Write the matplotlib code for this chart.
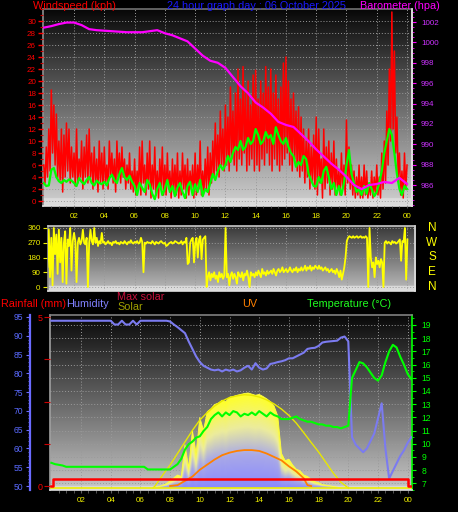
import numpy as np
import matplotlib
matplotlib.use('Agg')
import matplotlib.pyplot as plt
from matplotlib.colors import LinearSegmentedColormap

plt.rcParams['font.family'] = ['Liberation Sans', 'DejaVu Sans']

W, H = 458, 512

# ---------------- data ----------------
hour_ticks = [2, 4, 6, 8, 10, 12, 14, 16, 18, 20, 22, 24]
hour_labels = ['02', '04', '06', '08', '10', '12', '14', '16', '18', '20', '22', '00']

# wind gust (kph), 5-minute samples from 00:00
wind_gust_kph = [
    6, 3, 9, 4, 12, 5, 18.5, 8, 16, 6, 14.5, 4,
    10, 3.5, 12, 1.5, 11, 4, 13, 5, 12, 3, 9, 4,
    8, 2.5, 12, 3, 7, 4, 10, 2, 9, 4, 11, 3,
    12, 4, 8, 2, 9, 3, 7, 1.5, 10, 3, 8, 2,
    9, 3, 6, 2, 10, 4, 8, 3, 7, 1.5, 10, 4,
    8, 3, 9, 4, 7, 2, 6, 3, 8, 2, 5, 1.5,
    7, 1, 5, 2, 9, 1, 10, 3, 6, 1, 8, 2,
    10, 0.5, 6, 2, 9, 1, 5, 0.5, 7, 2, 9, 1,
    6, 1, 8, 2, 5, 0.5, 7, 1.5, 6, 1, 8, 0.5,
    5, 1, 8, 2, 6, 0.5, 7, 1, 5, 2, 6, 0.5,
    8, 1, 6, 2, 10, 1, 5, 1.5, 7, 2, 9, 1,
    8, 3, 10, 4, 13, 5, 11, 4, 15, 6, 12, 5,
    16, 6, 14, 5, 19, 7, 15, 6, 18, 5, 22, 7,
    17, 6, 22.4, 8, 18, 5, 20, 6, 16, 7, 21, 5,
    21.8, 6, 17, 5, 20, 7, 18, 6, 22.4, 8, 19, 6,
    22, 5, 18, 7, 21, 6, 17, 5, 19, 6, 23, 7,
    24, 8, 20, 6, 17, 5, 18, 7, 15, 5, 15.7, 4,
    14, 5, 12, 3, 10, 4, 12, 2, 9, 3, 11, 2,
    14, 1, 12, 3, 7, 0.5, 12, 2, 9, 3, 10, 1,
    8, 2, 10, 1, 7, 2, 5, 1, 8, 2, 6, 1,
    13.5, 3, 9, 2, 6, 1, 5, 0.5, 4, 1, 6, 0.5,
    4, 0.5, 6, 1, 5, 0.5, 3, 1, 5, 0.5, 4, 1,
    6, 1, 4, 0.5, 8, 2, 10, 3, 15, 6, 22, 10,
    31.5, 12, 25, 8, 14, 4, 8, 1, 5, 0.5, 8, 2,
    6,
]
wind_gust_hours = np.arange(len(wind_gust_kph)) / 12.0

# average wind (kph), 10-minute samples
wind_avg_kph = [
    3.0, 2.5, 2.6, 5.2, 5.5, 4.0,
    3.3, 3.0, 3.5, 3.2, 3.6, 3.4,
    3.0, 2.5, 3.8, 3.2, 2.8, 3.5,
    4.0, 3.0, 2.6, 3.4, 3.0, 2.8,
    3.2, 2.6, 3.8, 4.4, 3.5, 3.0,
    4.5, 5.5, 4.0, 3.5, 4.2, 3.2,
    2.5, 1.0, 3.0, 2.2, 1.5, 3.5,
    2.8, 1.2, 0.3, 2.0, 3.0, 1.0,
    2.0, 3.5, 1.5, 2.5, 0.8, 2.2,
    3.0, 1.5, 0.5, 2.5, 3.2, 1.0,
    2.8, 1.5, 3.5, 0.8, 2.0, 1.5,
    3.0, 4.5, 3.5, 5.0, 6.0, 5.2,
    6.0, 7.5, 6.5, 8.0, 9.0, 8.5,
    10.0, 8.5, 9.0, 10.5, 9.5, 10.0,
    12.0, 11.0, 9.5, 10.0, 11.5, 10.5,
    11.0, 9.5, 12.3, 11.0, 10.0, 9.5,
    10.5, 9.0, 8.0, 7.5, 5.7, 6.5,
    6.0, 7.5, 7.0, 4.5, 3.5, 2.5,
    2.4, 4.0, 3.0, 5.0, 5.7, 4.0,
    2.0, 3.0, 1.0, 2.5, 1.0, 3.0,
    6.0, 8.5, 4.5, 3.0, 1.5, 2.0,
    1.0, 2.5, 1.2, 3.0, 2.0, 0.8,
    1.5, 3.0, 5.0, 8.0, 10.0, 12.0,
    11.0, 8.0, 4.5, 2.0, 1.0, 2.5,
    2.0,
]
wind_avg_hours = np.arange(len(wind_avg_kph)) / 6.0

# barometer (hPa), 30-minute samples
baro_hpa = [
    1001.45, 1001.6, 1001.8, 1001.95, 1001.95, 1001.7, 1001.3, 1001.2,
    1001.15, 1001.1, 1001.05, 1001.0, 1001.0, 1001.0, 1001.1, 1001.2,
    1000.9, 1000.7, 1000.4, 1000.1, 999.4, 998.7, 998.2, 998.0,
    997.5, 996.6, 995.7, 995.0, 994.1, 993.6, 993.0, 992.2,
    991.9, 991.7, 991.0, 990.3, 989.5, 988.8, 988.1, 987.5,
    986.8, 986.0, 985.6, 986.0, 986.1, 986.3, 986.2, 986.7,
    986.1,
]
baro_hours = np.arange(len(baro_hpa)) / 2.0

# wind direction (degrees), 5-minute samples
wind_dir_deg = [
    290, 20, 340, 120, 350, 60, 300, 10, 360, 200, 320, 80,
    350, 150, 300, 30, 270, 340, 20, 290, 250, 360, 100, 280,
    330, 280, 30, 270, 300, 260, 280, 350, 270, 260, 300, 0,
    270, 350, 280, 260, 360, 270, 300, 250, 280, 265, 330, 270,
    275, 260, 270, 280, 265, 270, 255, 275, 270, 280, 265, 270,
    260, 275, 270, 265, 280, 270, 260, 275, 270, 285, 270, 265,
    275, 270, 280, 265, 270, 300, 275, 90, 270, 265, 275, 270,
    270, 265, 280, 270, 260, 275, 270, 265, 275, 280, 270, 265,
    270, 250, 255, 265, 270, 275, 265, 270, 280, 275, 270, 265,
    270, 280, 260, 275, 270, 300, 140, 150, 270, 290, 300, 150,
    270, 300, 180, 290, 310, 170, 290, 300, 310, 0, 60, 90,
    40, 80, 60, 90, 50, 70, 30, 90, 60, 80, 50, 70,
    360, 60, 80, 10, 70, 90, 50, 80, 60, 20, 90, 70,
    60, 90, 40, 80, 70, 100, 60, 0, 90, 70, 80, 60,
    90, 70, 100, 80, 60, 110, 80, 90, 70, 100, 80, 90,
    100, 80, 110, 90, 70, 100, 110, 90, 100, 120, 90, 100,
    110, 90, 100, 120, 100, 90, 110, 100, 120, 90, 110, 100,
    120, 100, 110, 130, 100, 120, 110, 130, 100, 120, 110, 130,
    120, 110, 130, 110, 120, 100, 110, 120, 100, 110, 90, 100,
    110, 90, 100, 80, 110, 90, 60, 100, 45, 80, 120, 180,
    280, 300, 310, 305, 300, 310, 300, 305, 310, 300, 305, 310,
    300, 305, 300, 310, 300, 0, 360, 180, 120, 150, 60, 180,
    140, 160, 120, 170, 150, 0, 270, 280, 265, 275, 270, 260,
    280, 270, 275, 265, 270, 280, 290, 160, 280, 275, 360, 45,
    290,
]
wind_dir_hours = np.arange(len(wind_dir_deg)) / 12.0

# humidity (%), 15-minute samples
humidity_pct = [
    94, 94, 94, 94, 94, 94, 94, 94, 94, 94, 94, 94, 94, 94, 94, 94,
    94, 93, 93, 94, 93, 93, 94, 93, 94, 94, 94, 94, 94, 94, 94, 94,
    93.8, 93, 92.3, 91.5, 90.7, 88.5, 86.5, 84.5, 83, 82, 81.5, 81,
    80.8, 81, 80.5, 81, 80.7, 81, 80.5, 80.8, 81.5, 82, 81, 82.7,
    81.5, 81, 81.3, 82.5, 82.7, 83, 83.2, 83.5, 84, 84, 84.5, 85,
    85.5, 86.5, 86.7, 86.8, 87.3, 88.2, 88.4, 88.5, 88.6, 88.7, 89.5, 89.8,
    88.5, 63, 61, 60, 59, 60, 62, 64, 68, 72, 60, 52,
    54, 56, 58, 59.5, 61.5, 63,
]
humidity_hours = np.arange(len(humidity_pct)) / 4.0

# temperature (deg C), 15-minute samples
temperature_c = [
    8.6, 8.5, 8.45, 8.4, 8.3, 8.3, 8.3, 8.3, 8.3, 8.3, 8.3, 8.3,
    8.3, 8.3, 8.3, 8.3, 8.3, 8.3, 8.3, 8.3, 8.3, 8.3, 8.3, 8.3,
    8.3, 8.3, 8.1, 8.1, 8.1, 8.1, 8.1, 8.1, 8.1, 8.3, 8.5, 8.9,
    9.6, 10.0, 10.2, 10.5, 10.6, 11.0, 11.3, 11.9, 12.2, 12.4, 12.1, 12.4,
    12.2, 12.5, 12.4, 12.1, 12.3, 12.2, 12.4, 12.2, 12.5, 12.3, 12.1, 12.4,
    12.2, 12.1, 11.9, 11.9, 11.9, 12.0, 12.1, 11.9, 11.8, 11.7, 11.7, 11.6,
    11.5, 11.5, 11.4, 11.4, 11.3, 11.3, 11.2, 11.3, 11.4, 15.0, 15.6, 16.2,
    16.1, 15.8, 15.4, 15.0, 14.8, 15.2, 16.2, 17.0, 17.5, 17.3, 16.6, 16.0,
    15.3, 14.9,
]
temperature_hours = np.arange(len(temperature_c)) / 4.0

# solar radiation (W/m2), 15-minute samples from 07:00
solar_wm2 = [
    2, 5, 10, 15, 25, 35, 45, 40, 150, 70, 200, 120,
    245, 200, 265, 275, 290, 295, 305, 300, 315, 318, 322, 325,
    328, 330, 326, 322, 325, 318, 310, 300, 285, 250, 120, 95,
    100, 80, 65, 60, 45, 40, 30, 22, 18, 12, 10, 8,
    5, 3, 0,
]
solar_hours = 7.0 + np.arange(len(solar_wm2)) / 4.0

# theoretical max solar (W/m2)
max_solar_hours = [6.85, 7.0, 7.5, 8.0, 8.5, 9.0, 9.5, 10.0, 10.5, 11.0, 11.5, 12.0,
                   12.5, 13.0, 13.5, 14.0, 14.5, 15.0, 15.5, 16.0, 16.5, 17.0, 17.5,
                   18.0, 18.5, 19.0, 19.5, 20.0]
max_solar_wm2 = [0, 8, 45, 80, 120, 160, 200, 236, 262, 285, 302, 314, 320, 324,
                 322, 316, 306, 292, 274, 252, 225, 192, 158, 125, 88, 51, 20, 0]

# UV index
uv_hours = [8.0, 8.5, 9.0, 9.5, 10.0, 10.5, 11.0, 11.5, 12.0, 12.5, 13.0, 13.5,
            14.0, 14.5, 15.0, 15.5, 16.0, 16.5, 17.0, 17.25, 17.5]
uv_index = [0, 0.05, 0.3, 0.55, 0.95, 1.25, 1.55, 1.8, 1.95, 2.05, 2.1, 2.1,
            2.05, 1.9, 1.7, 1.5, 1.15, 0.85, 0.45, 0.05, 0]

# rainfall (mm), daily total
rain_hours = [0.0, 0.1, 24.0, 24.3]
rain_mm = [0.0, 0.2, 0.0, 0.0]

# ---------------- figure ----------------
fig = plt.figure(figsize=(W / 100, H / 100), dpi=100, facecolor='black')


def px_axes(left, top, right, bottom):
    return fig.add_axes([left / W, 1 - bottom / H, (right - left) / W, (bottom - top) / H])


def ftext(x, y, s, color, size=7.8, ha='left', va='center'):
    fig.text(x / W, 1 - y / H, s, color=color, fontsize=size, ha=ha, va=va)


def vgrad(ax, top, bottom, band=None, band_frac=0.03):
    n = 300
    g = np.linspace(top, bottom, n)
    if band is not None:
        g[-max(1, int(n * band_frac)):] = band
    img = np.stack([g, g, g], axis=-1)[:, None, :].repeat(2, axis=1)
    ax.imshow(img, extent=(0, 1, 0, 1), transform=ax.transAxes, aspect='auto',
              zorder=0, interpolation='bilinear')


def style_spines(ax, left='#909090', right='#e0e0e0', top='#707070', bottom='#e0e0e0', lw=1.2):
    for k, c in (('left', left), ('right', right), ('top', top), ('bottom', bottom)):
        ax.spines[k].set_color(c)
        ax.spines[k].set_linewidth(lw)


def hide_axis(ax):
    for s in ax.spines.values():
        s.set_visible(False)
    ax.set_yticks([])
    ax.tick_params(axis='both', which='both', length=0, labelleft=False,
                   labelright=False, labelbottom=False, labeltop=False)


grid_kw = dict(color='#9a9a9a', linestyle=(0, (1, 2)), linewidth=0.7)
TICK_FS = 5.8
YELLOW = '#f0f000'

# ---- top panel: wind speed + barometer
ax1 = px_axes(43, 9, 412, 206)
vgrad(ax1, 0.03, 0.82, band=0.86, band_frac=0.04)
ax1.set_xlim(-0.05, 24.33)
ax1.set_ylim(-0.83, 32)
ax1.set_yticks(range(0, 31, 2))
ax1.set_yticks(range(0, 33, 1), minor=True)
ax1.set_xticks(hour_ticks)
ax1.set_xticklabels(hour_labels)
ax1.set_xticks(np.arange(0.5, 24.3, 0.5), minor=True)
ax1.tick_params(axis='y', which='major', colors='red', labelcolor='red',
                labelsize=TICK_FS, length=3.5, width=1, pad=1.5)
ax1.tick_params(axis='y', which='minor', colors='#cc0000', length=2, width=0.8)
ax1.tick_params(axis='x', which='both', colors='#505050', labelcolor=YELLOW,
                labelsize=TICK_FS, length=1.5, pad=3.3)
ax1.grid(True, which='major', **grid_kw)
ax1.set_axisbelow(False)
ax1.plot(wind_gust_hours, wind_gust_kph, color='#ff0000', lw=1.1, zorder=3)
ax1.plot(wind_avg_hours, wind_avg_kph, color='#00ff00', lw=1.6, zorder=4)
style_spines(ax1)

ax1b = ax1.twinx()
ax1b.set_ylim(983.94, 1003.28)
ax1b.set_yticks(range(986, 1003, 2))
ax1b.set_yticks(np.arange(984, 1003.3, 0.5), minor=True)
ax1b.tick_params(axis='y', which='major', colors='#ff00ff', labelcolor='#cc33ff',
                 labelsize=TICK_FS, length=3, pad=3.5)
ax1b.tick_params(axis='y', which='minor', colors='#ff00ff', length=1.5)
ax1b.plot(baro_hours, baro_hpa, color='#ff00ff', lw=1.6, zorder=5)
for k in ('left', 'top', 'bottom'):
    ax1b.spines[k].set_visible(False)
ax1b.spines['right'].set_color('#e0e0e0')
ax1b.spines['right'].set_linewidth(1.2)

# ---- wind direction panel
ax2 = px_axes(47.5, 226, 415, 291)
vgrad(ax2, 0.22, 0.74, band=0.86, band_frac=0.08)
ax2.set_xlim(0.25, 24.5)
ax2.set_ylim(-24.4, 372.2)
ax2.set_yticks([0, 90, 180, 270, 360])
ax2.set_xticks(hour_ticks)
ax2.tick_params(axis='x', which='both', length=0, labelbottom=False)
ax2.tick_params(axis='y', colors=YELLOW, labelcolor=YELLOW, labelsize=TICK_FS,
                length=3.5, pad=1.5)
ax2.grid(True, **grid_kw)
ax2.plot(wind_dir_hours, wind_dir_deg, color='#ffff00', lw=1.3, zorder=3)
style_spines(ax2, left='#909090', right='#e0e0e0', top='#c8c8c8', bottom='#e0e0e0')
for lbl, deg in (('N', 360), ('W', 270), ('S', 180), ('E', 90), ('N', 0)):
    ftext(432, 287 - deg * 59 / 360, lbl, '#ffff00', size=8.5, ha='center')

# ---- bottom panel
X3 = (-0.09, 24.29)
ax3 = px_axes(50, 315, 412, 490)
vgrad(ax3, 0.03, 0.78, band=0.85, band_frac=0.025)
ax3.set_xlim(*X3)
ax3.set_ylim(6.55, 19.75)
ax3.set_yticks(range(7, 20))
ax3.set_yticks(np.arange(6.5, 19.8, 0.5), minor=True)
ax3.set_xticks(hour_ticks)
ax3.set_xticklabels(hour_labels)
ax3.set_xticks(np.arange(0.5, 24.3, 0.5), minor=True)
ax3.tick_params(axis='x', which='both', colors='#606060', labelcolor=YELLOW,
                labelsize=TICK_FS, length=1.8, pad=3.4)
ax3.grid(True, which='major', **grid_kw)
style_spines(ax3, left='#a0a0a0', right='#00ff00', top='#808080', bottom='#e0e0e0')

# solar (gradient filled)
ax_s = ax3.twinx()
ax_s.set_xlim(*X3)
ax_s.set_ylim(-6.94, 600.7)
hide_axis(ax_s)
solar_cmap = LinearSegmentedColormap.from_list(
    'solar', [(0.0, '#8a8aff'), (0.35, '#a8a8e8'), (0.65, '#ecec9c'), (1.0, '#ffff28')])
poly = ax_s.fill_between(solar_hours, 0, solar_wm2, facecolor='none', edgecolor='none')
nx, ny = 700, 300
xg = np.linspace(X3[0], X3[1], nx)
yg = np.linspace(0, 340, ny)
col_top = np.interp(xg, solar_hours, solar_wm2, left=0, right=0)
frac = np.clip(yg[:, None] / np.maximum(col_top[None, :], 1.0), 0, 1)
im = ax_s.imshow(frac, origin='lower', extent=(X3[0], X3[1], 0, 340), aspect='auto',
                 cmap=solar_cmap, vmin=0, vmax=1, interpolation='bilinear', zorder=2)
im.set_clip_path(poly.get_paths()[0], ax_s.transData)
ax_s.plot(solar_hours, solar_wm2, color='#ffff40', lw=0.6, zorder=3)
ax_s.plot(max_solar_hours, max_solar_wm2, color='#e8e800', lw=1.0, zorder=4)
ax_s.axhline(0, color='#f0f000', lw=1.2, zorder=4)
ax_s.set_xlim(*X3)
ax_s.set_ylim(-6.94, 600.7)

# UV
ax_u = ax3.twinx()
ax_u.set_ylim(-0.234, 10.0)
hide_axis(ax_u)
ax_u.plot(uv_hours, uv_index, color='#ff8000', lw=1.3)

# humidity
ax_h = ax3.twinx()
ax_h.set_ylim(48.94, 95.53)
ax_h.yaxis.set_ticks_position('left')
ax_h.yaxis.set_label_position('left')
for k in ('right', 'top', 'bottom'):
    ax_h.spines[k].set_visible(False)
ax_h.spines['left'].set_visible(True)
ax_h.spines['left'].set_position(('axes', -20 / 362))
ax_h.spines['left'].set_color('#6a6aff')
ax_h.spines['left'].set_linewidth(1.6)
ax_h.set_yticks(range(50, 96, 5))
ax_h.set_yticks(range(50, 96, 1), minor=True)
ax_h.tick_params(axis='y', which='major', colors='#6a6aff', labelcolor='#5a6aff',
                 labelsize=TICK_FS + 0.4, length=3, pad=2)
ax_h.tick_params(axis='y', which='minor', colors='#6a6aff', length=1.5)
ax_h.plot(humidity_hours, humidity_pct, color='#7b7bf0', lw=1.5)

# temperature line
ax_t = ax3.twinx()
ax_t.set_ylim(6.55, 19.75)
hide_axis(ax_t)
ax_t.plot(temperature_hours, temperature_c, color='#00ff00', lw=1.5)

# rainfall
ax_r = ax3.twinx()
ax_r.set_ylim(-0.118, 5.06)
ax_r.yaxis.set_ticks_position('left')
for s in ax_r.spines.values():
    s.set_visible(False)
ax_r.set_yticks([0, 1.25, 2.5, 3.75, 5])
ax_r.set_yticklabels(['0', '', '', '', '5'])
ax_r.tick_params(axis='y', colors='#cc0000', labelcolor='red', labelsize=TICK_FS + 0.6,
                 length=4.3, pad=0.8)
ax_r.plot(rain_hours, rain_mm, color='#ff0000', lw=1.8, drawstyle='steps-post')
for a in (ax_s, ax_u, ax_h, ax_t, ax_r):
    a.set_xlim(*X3)

# temperature ticks on the right of the base axes (twinx moved them left)
ax3.yaxis.tick_right()
ax3.yaxis.set_label_position('right')
ax3.tick_params(axis='y', which='major', colors='#00ff00', labelcolor='#00ff00',
                labelsize=TICK_FS + 0.4, length=3, pad=4, left=False, labelleft=False)
ax3.tick_params(axis='y', which='minor', colors='#00ff00', length=1.5, left=False)

# ---- header texts
ftext(33, 6, 'Windspeed (kph)', '#ff0000')
ftext(256.5, 6, '24 hour graph day : 06 October 2025', '#1a1aff', ha='center')
ftext(440, 6, 'Barometer (hpa)', '#ff00ff', ha='right')

ftext(1, 304, 'Rainfall (mm)', '#ff0000')
ftext(66, 304, 'Humidity', '#8080ff')
ftext(117, 297, 'Max solar', '#c8103c')
ftext(117, 307.5, 'Solar', '#a0a000')
ftext(242, 304, 'UV', '#ff8000')
ftext(307, 304, 'Temperature (°C)', '#20ff20')

fig.savefig('out.png', dpi=100, facecolor='black')
